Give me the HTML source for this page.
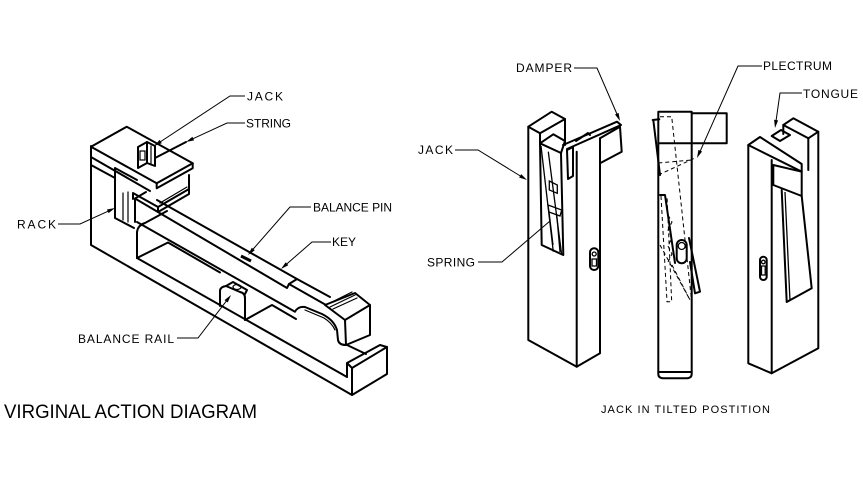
<!DOCTYPE html>
<html><head><meta charset="utf-8"><style>
html,body{margin:0;padding:0;background:#fff;}
svg{display:block;}
text{font-family:"Liberation Sans",sans-serif;fill:#000;}
</style></head><body>
<svg width="863" height="486" viewBox="0 0 863 486" xmlns="http://www.w3.org/2000/svg">
<rect width="863" height="486" fill="#fff"/>

<!-- ================= LEFT FIGURE ================= -->
<g fill="none" stroke="#000" stroke-width="2" stroke-linejoin="round" stroke-linecap="round">
  <!-- base outline -->
  <path d="M91,146 L91,245 L352,395 L387,374 L387,347"/>
  <!-- front lip -->
  <path d="M352,395 L352,368 L387,347 M347,363 L380,345 L387,347 M347,363 L352,368 M347,363 L347,377"/>
  <path d="M347,345 L366,354"/>
  <!-- floor top front edge -->
  <path d="M137,258 L347,377"/>
  <!-- upright inner wall & recess -->
  <path d="M137,258 L137,232 Q138,225 145,223 L167,211"/>
  <path d="M137,258 L168,242.5 L220,272.5"/>
  <!-- balance rail -->
  <path d="M220,306 L220,291 Q220,287 226,286 L240,292 Q245,293 245,298 L245,320"/>
  <path d="M226,286 L233,282 L247,290 L245,294"/>
  <path d="M245,320 L272,305 L296,319"/>
  <!-- key -->
  <path d="M157,200 L297,279 L330,297"/>
  <path d="M135,198.5 L287,288 L289,284 L297,279"/>
  <path d="M289,284 L326,305"/>
  <path d="M135,198.5 L135,222 M135,198.5 L146,192"/>
  <path d="M137,222 L295,311.7 Q298,306 305,307 L322,314 Q334,320 337,330 L338,340 Q339,345 346,345"/>
  <!-- key front block -->
  <path d="M325,305 L355,293 L370,305 L345,320 Z"/>
  <path d="M345,320 L346,345 L370,335 L370,305"/>
  <!-- upper block / top slab -->
  <path d="M91,146.7 L126.7,126.7 L192.7,163.3 L156.7,183.3 Z"/>
  <path d="M192.7,163.3 L192.7,168.3 L156.7,188.3 L156.7,183.3"/>
  <path d="M91,157 L150,191 M91,165 L115,178"/>
  <path d="M115,168 L115,218 L134,228 M115,168 L137,180"/>
  <!-- lower rack plate -->
  <path d="M133,193 L158,207 L189,189 L189,175 M158,207 L158,212 L189,194 L189,189 M133,193 L133,199"/>
  <!-- jack on top -->
  <path d="M138,147 L147,142 L147,163 L138,168 Z"/>
  <path d="M147,142 L155,146 L155,166 L147,163"/>
  <path d="M186,142 L155,158"/>
</g>
<g fill="none" stroke="#000" stroke-width="1.2" stroke-linecap="round">
  <path d="M305,310 L324,318 Q332,323 335,330"/>
  <path d="M328,304 L352,292 M330,307 L355,295 M333,309 L357,298"/>
  <path d="M160,203 L187,187"/>
  <path d="M123,193 L123,220 M128,192 L128,222"/>
  <rect x="140" y="151" width="5" height="9"/>
  <path d="M151,146 L151,165"/>
  <ellipse cx="237" cy="287" rx="4" ry="2.5"/>
</g>
<!-- balance pin -->
<path d="M241,256 L251,261" stroke="#000" stroke-width="3"/>

<!-- left leaders -->
<g fill="none" stroke="#000" stroke-width="1">
  <path d="M245,96 L230,96 L157,144"/>
  <path d="M245,123 L227,123 L189,140.6"/>
  <path d="M58,224 L80,224 L112,209.4"/>
  <path d="M311,207 L290,207 L251,251.5"/>
  <path d="M331,242 L312,242 L284,266.4"/>
  <path d="M177,338 L198,338 L229,297.6"/>
</g>
<g fill="#000">
  <polygon points="154,146 159.6,139.9 161.8,143.3"/>
  <polygon points="186,142 192.4,136.8 194.1,140.4"/>
  <polygon points="115,208 108.6,213.1 106.9,209.5"/>
  <polygon points="248,255 251.8,247.7 254.8,250.3"/>
  <polygon points="281,269 285.7,262.2 288.3,265.2"/>
  <polygon points="231,295 227.7,302.5 224.5,300.1"/>
</g>

<!-- left labels -->
<text x="247" y="100.5" font-size="12" textLength="36" lengthAdjust="spacing">JACK</text>
<text x="246" y="127.5" font-size="12" textLength="45" lengthAdjust="spacing">STRING</text>
<text x="17" y="228.5" font-size="12" textLength="39" lengthAdjust="spacing">RACK</text>
<text x="313" y="211.5" font-size="12" textLength="79" lengthAdjust="spacing">BALANCE PIN</text>
<text x="332" y="246" font-size="12" textLength="24" lengthAdjust="spacing">KEY</text>
<text x="78" y="343" font-size="12" textLength="96" lengthAdjust="spacing">BALANCE RAIL</text>
<text x="4" y="418" font-size="19" textLength="253" lengthAdjust="spacingAndGlyphs">VIRGINAL ACTION DIAGRAM</text>

<!-- ================= RIGHT: JACK 1 ================= -->
<g fill="none" stroke="#000" stroke-width="2" stroke-linejoin="round" stroke-linecap="round">
  <path d="M528.3,126.7 L528.3,340 L576.7,366.7 L600,353.3 L600,138.3"/>
  <path d="M576.7,151.7 L576.7,366.7"/>
  <path d="M528.3,126.7 L551.7,111.7 L565,119 L540,133.3 Z"/>
  <path d="M565,119 L565,145 M540,133.3 L540,143"/>
  <!-- tongue -->
  <path d="M540,143.3 L553.3,134.3 L565,141 L561,153 Z"/>
  <path d="M540,143.3 L541.7,245 L563.3,255 L561,153"/>
  <!-- damper -->
  <path d="M563,145 L617,121.7 L621,125 L567,149"/>
  <path d="M600,138.3 L620,126.7 L621.7,151.7 L600,163.3"/>
  <path d="M567,150 L573,147 L573,176 L568,179 Z"/>
  <path d="M576,141 L588,133 L590,135"/>
  <!-- slot -->
  <rect x="590" y="248.3" width="8.3" height="21.7" rx="4"/>
</g>
<g fill="none" stroke="#000" stroke-width="1.3">
  <path d="M541,146 L553.3,251.7 M548.3,151.7 L561.7,255"/>
  <path d="M549.3,181 L557.3,185 L557.3,193.3 L549.3,190 Z"/>
  <path d="M548,205 L561.7,210 L560,216 L549,212 Z"/>
  <path d="M549,212 L553,245 M556.7,214 L560,252"/>
  <circle cx="594.2" cy="254" r="2"/>
  <path d="M592,259 L596.5,259 L596.5,266 L592,266 Z"/>
</g>

<!-- ================= RIGHT: JACK 2 (side) ================= -->
<g fill="none" stroke="#000" stroke-width="2" stroke-linejoin="round" stroke-linecap="round">
  <path d="M658.3,111.7 L691.7,111.7 L691.7,372 L658.3,372 Z"/>
  <path d="M658.3,372 L658.3,374 Q658.3,378.3 664,378.3 L686,378.3 Q691.7,378.3 691.7,374 L691.7,372"/>
  <path d="M691.7,113.3 L726.7,113.3 L726.7,143.3 L691.7,143.3"/>
  <path d="M658.3,143.3 L691.7,143.3"/>
  <path d="M652.7,120 L659.3,119.3 M653.3,120 L660,175"/>
  <path d="M660,195 L665,195 L675,263"/>
  <path d="M689,238 L700,291.7 L695,293.3 L690,262"/>
  <rect x="676.7" y="240" width="10" height="23.3" rx="5"/>
</g>
<g fill="none" stroke="#000" stroke-width="1" stroke-dasharray="4,3">
  <path d="M660,116.7 L671.7,116.7 L691.7,301.7"/>
  <path d="M661,196 L667,301.7 L671.7,301.7 L667,196"/>
  <path d="M658.3,175 L695,158 M658.3,163 L692,160"/>
  <path d="M660,245 L690,300 M672,265 L690,300"/>
  <path d="M668,215 L672,222 L668,230 L672,238 L668,246 L672,254 L668,262"/>
</g>
<circle cx="681.7" cy="246" r="3.5" fill="none" stroke="#000" stroke-width="1.3"/>

<!-- ================= RIGHT: JACK 3 ================= -->
<g fill="none" stroke="#000" stroke-width="2" stroke-linejoin="round" stroke-linecap="round">
  <path d="M748.3,145 L748.3,363.3 L771.7,373.3 L818.3,348.3 L818.3,131.7"/>
  <path d="M771.7,160 L771.7,373.3"/>
  <path d="M748.3,145 L760,137 L801.7,164 L801.7,171.7 Z"/>
  <path d="M771.7,136 L781,130 L790,135 L780,141 Z"/>
  <path d="M773.3,165 L801.7,171.7 L801.7,196 L773.3,185 Z"/>
  <path d="M783.3,125 L793.3,118.3 L818.3,131.7 L808.3,138.3 Z"/>
  <path d="M808.3,138.3 L808.3,170 M783.3,125 L783.3,134"/>
  <path d="M781.7,190 L786.7,302 L811.7,288.3 L801.7,196"/>
  <rect x="760" y="256.7" width="6.7" height="23.3" rx="3.3"/>
</g>
<g fill="none" stroke="#000" stroke-width="1.3">
  <path d="M785,192 L790,301"/>
  <circle cx="763.3" cy="262" r="1.8"/>
  <path d="M761.5,266 L765.2,266 L765.2,275 L761.5,275 Z"/>
</g>

<!-- right leaders -->
<g fill="none" stroke="#000" stroke-width="1">
  <path d="M574,68 L597,68 L617.6,115.5"/>
  <path d="M455,150 L478,150 L522,177"/>
  <path d="M478,262 L502,262 L550,221"/>
  <path d="M762,66 L738,66 L699.8,152"/>
  <path d="M802,93 L780,93 L776,121"/>
</g>
<g fill="#000">
  <polygon points="620,121 615,114.5 618.6,112.9"/>
  <polygon points="527,180 519.1,177.5 521.2,174.1"/>
  <polygon points="697,158 698.4,149.9 702.1,151.5"/>
  <polygon points="775,128 774.1,119.8 778.1,120.4"/>
</g>

<!-- right labels -->
<text x="516" y="72" font-size="12" textLength="56" lengthAdjust="spacing">DAMPER</text>
<text x="763" y="70" font-size="12" textLength="69" lengthAdjust="spacing">PLECTRUM</text>
<text x="803" y="98" font-size="12" textLength="55" lengthAdjust="spacing">TONGUE</text>
<text x="418" y="154" font-size="12" textLength="35" lengthAdjust="spacing">JACK</text>
<text x="427" y="266.5" font-size="12" textLength="48" lengthAdjust="spacing">SPRING</text>
<text x="601" y="413" font-size="11" textLength="169" lengthAdjust="spacing">JACK IN TILTED POSTITION</text>
</svg>
</body></html>
